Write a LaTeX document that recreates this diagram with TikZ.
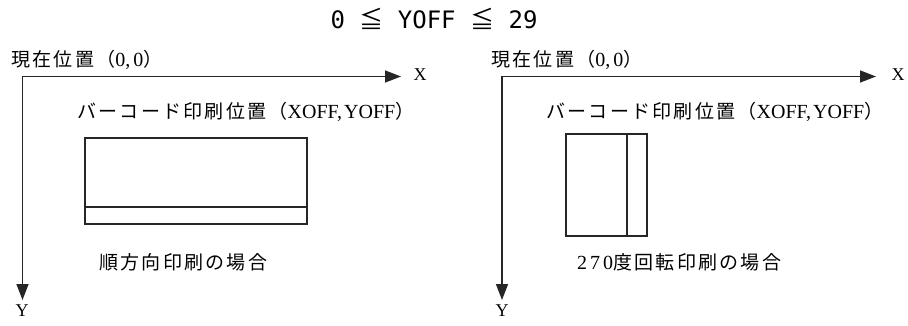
\documentclass[tikz,border=0pt]{standalone}
\usepackage{fontspec}
\usetikzlibrary{arrows.meta}
\newfontfamily\jpfont[LetterSpace=12]{Noto Sans CJK JP}
\newfontfamily\jpplain{Noto Sans CJK JP}
\newfontfamily\latfont{Liberation Serif}
\newfontfamily\monofont{DejaVu Sans Mono}
\begin{document}
\begin{tikzpicture}[x=1pt,y=-1pt,
  lbl/.style={inner sep=0pt, anchor=west, font=\fontsize{19}{19}\selectfont\jpfont},
  axlbl/.style={inner sep=0pt, font=\fontsize{18}{18}\selectfont\latfont},
  axis/.style={line width=1.5pt, draw=black!85, -{Triangle[length=16pt,width=12pt]}},
  barbox/.style={draw=black!85, line width=1.5pt, inner sep=0pt, minimum width=#1},
  divline/.style={draw=black!85, line width=1.5pt}]
\useasboundingbox (0,0) rectangle (908,326);
% title
\node[inner sep=0pt, font=\fontsize{24}{24}\selectfont\monofont] (title) at (434,19)
  {0 {\jpplain ≦} YOFF {\jpplain ≦} 29};
% left diagram
\coordinate (o1) at (22.5,76.5);
\coordinate (x1) at (401,76.5);
\coordinate (y1) at (22.5,300);
\draw[axis] (o1) -- (x1);
\draw[axis] (o1) -- (y1);
\node[axlbl] (xl1) at (420,75) {X};
\node[axlbl] (yl1) at (22,311) {Y};
\node[lbl] (cur1) at (11,60) {現在位置（{\fontsize{20}{20}\selectfont\latfont 0,\hspace{3pt}0}）};
\node[lbl] (pos1) at (77,112) {バーコード印刷位置（{\fontsize{20}{20}\selectfont\latfont XOFF,\hspace{2pt}YOFF}）};
\node[barbox=222pt, minimum height=86pt] (b1) at (196,181) {};
\draw[divline] ([yshift=18pt]b1.south west) -- ([yshift=18pt]b1.south east);
\node[lbl] (cap1) at (99,262) {順方向印刷の場合};
% right diagram
\coordinate (o2) at (502,76.5);
\coordinate (x2) at (876,76.5);
\coordinate (y2) at (502,300);
\draw[axis] (o2) -- (x2);
\draw[axis] (o2) -- (y2);
\node[axlbl] (xl2) at (898,75) {X};
\node[axlbl] (yl2) at (502,311) {Y};
\node[lbl] (cur2) at (491,60) {現在位置（{\fontsize{20}{20}\selectfont\latfont 0,\hspace{3pt}0}）};
\node[lbl] (pos2) at (546,112) {バーコード印刷位置（{\fontsize{20}{20}\selectfont\latfont XOFF,\hspace{2pt}YOFF}）};
\node[barbox=81pt, minimum height=102pt] (b2) at (606.5,185) {};
\draw[divline] ([xshift=-21pt]b2.north east) -- ([xshift=-21pt]b2.south east);
\node[lbl] (cap2) at (577,262) {{\fontsize{20}{20}\selectfont\latfont\addfontfeature{LetterSpace=15}270}度回転印刷の場合};
\end{tikzpicture}
\end{document}
